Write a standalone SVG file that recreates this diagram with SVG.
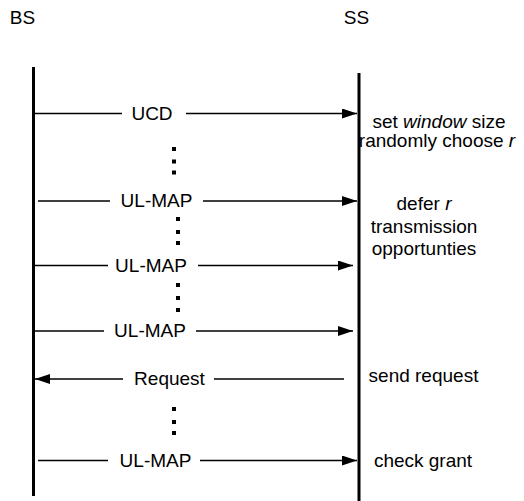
<svg xmlns="http://www.w3.org/2000/svg" width="524" height="501" viewBox="0 0 524 501">
<defs>
<style>
text{font-family:"Liberation Sans",Arial,sans-serif;font-size:19px;fill:#000}
.mid{text-anchor:middle}
.life{stroke:#000;stroke-width:3;fill:none}
.msg{stroke:#000;stroke-width:1.5;fill:none}
.arr{marker-end:url(#ah)}
.dot{fill:#000}
</style>
<marker id="ah" markerUnits="userSpaceOnUse" markerWidth="16" markerHeight="11" refX="15" refY="5" orient="auto">
<path d="M0,0 L15,5 L0,10 z" fill="#000"/>
</marker>
</defs>
<rect width="524" height="501" fill="#fff"/>
<g id="BS">
<text x="22.5" y="24" class="mid">BS</text>
<line class="life" x1="33.5" y1="67" x2="33.5" y2="496"/>
</g>
<g id="SS">
<text x="356.5" y="24" class="mid">SS</text>
<line class="life" x1="359" y1="73" x2="359" y2="501"/>
</g>
<g id="connectors">
<line class="msg" x1="35" y1="113.5" x2="122" y2="113.5"/>
<line class="msg arr" x1="186" y1="113.5" x2="357" y2="113.5"/>
<text x="152" y="120" class="mid">UCD</text>
<line class="msg" x1="38" y1="201" x2="110" y2="201"/>
<line class="msg arr" x1="203" y1="201" x2="357" y2="201"/>
<text x="156.5" y="207" class="mid">UL-MAP</text>
<line class="msg" x1="35" y1="265.5" x2="108" y2="265.5"/>
<line class="msg arr" x1="198" y1="265.5" x2="353" y2="265.5"/>
<text x="151" y="271.5" class="mid">UL-MAP</text>
<line class="msg" x1="35" y1="331" x2="104" y2="331"/>
<line class="msg arr" x1="196" y1="331" x2="353" y2="331"/>
<text x="150" y="337" class="mid">UL-MAP</text>
<line class="msg arr" x1="123" y1="379" x2="35" y2="379"/>
<line class="msg" x1="214" y1="379" x2="344" y2="379"/>
<text x="169.5" y="385" class="mid">Request</text>
<line class="msg" x1="38" y1="460.5" x2="108" y2="460.5"/>
<line class="msg arr" x1="200" y1="460.5" x2="357" y2="460.5"/>
<text x="155.5" y="466.5" class="mid">UL-MAP</text>
</g>
<g id="dots">
<rect class="dot" x="172" y="147" width="4" height="4"/>
<rect class="dot" x="172" y="159.5" width="4" height="4"/>
<rect class="dot" x="172" y="170.5" width="4" height="4"/>
<rect class="dot" x="176" y="217" width="4" height="4"/>
<rect class="dot" x="176" y="230" width="4" height="4"/>
<rect class="dot" x="176" y="241" width="4" height="4"/>
<rect class="dot" x="176" y="283" width="4" height="4"/>
<rect class="dot" x="176" y="296" width="4" height="4"/>
<rect class="dot" x="176" y="308" width="4" height="4"/>
<rect class="dot" x="172" y="407" width="4" height="4"/>
<rect class="dot" x="172" y="420" width="4" height="4"/>
<rect class="dot" x="172" y="431" width="4" height="4"/>
</g>
<g id="notes">
<text x="439" y="127.5" class="mid">set <tspan font-style="italic">window</tspan> size</text>
<text x="437" y="147" class="mid">randomly choose <tspan font-style="italic">r</tspan></text>
<text x="424" y="210" class="mid">defer <tspan font-style="italic">r</tspan></text>
<text x="424" y="233" class="mid">transmission</text>
<text x="424" y="254.5" class="mid">opportunties</text>
<text x="423.5" y="382" class="mid">send request</text>
<text x="423" y="466.5" class="mid">check grant</text>
</g>
</svg>
